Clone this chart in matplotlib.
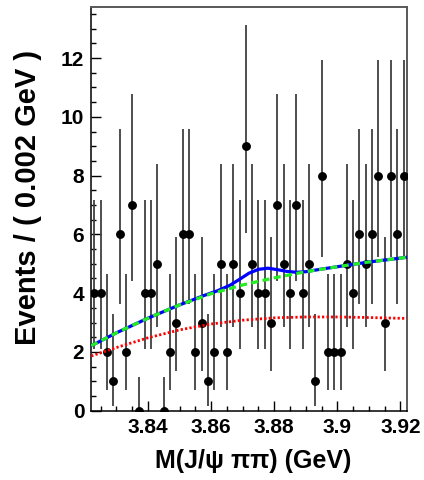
import math

import matplotlib
matplotlib.use("Agg")
import matplotlib.pyplot as plt
from matplotlib.ticker import MultipleLocator, FuncFormatter
import numpy as np

# ── Data ──────────────────────────────────────────────────────────────────────
BIN_WIDTH = 0.002
X_LO, X_HI = 3.822, 3.922

counts = [4, 4, 2, 1, 6, 2, 7, 0, 4, 4,
          5, 0, 2, 3, 6, 6, 2, 3, 1, 2,
          5, 2, 5, 4, 9, 5, 4, 4, 3, 7,
          5, 4, 7, 4, 5, 1, 8, 2, 2, 2,
          5, 4, 6, 5, 6, 8, 3, 8, 6, 8]

# total fit (signal + background)
fit_x = [3.822, 3.830, 3.840, 3.850, 3.858, 3.862, 3.866, 3.869, 3.872, 3.875,
         3.878, 3.881, 3.884, 3.887, 3.890, 3.895, 3.900, 3.910, 3.922]
fit_y = [2.21, 2.65, 3.15, 3.60, 3.93, 4.08, 4.27, 4.47, 4.68, 4.81,
         4.85, 4.80, 4.74, 4.71, 4.73, 4.82, 4.90, 5.06, 5.22]

# background component (green dashed)
bkg_x = [3.822, 3.830, 3.840, 3.850, 3.860, 3.870, 3.880, 3.890, 3.900, 3.910, 3.922]
bkg_y = [2.21, 2.65, 3.15, 3.60, 3.98, 4.28, 4.52, 4.73, 4.90, 5.06, 5.22]

# second component (red dotted)
red_x = [3.822, 3.830, 3.840, 3.850, 3.860, 3.870, 3.880, 3.890, 3.900, 3.910, 3.922]
red_y = [1.86, 2.15, 2.48, 2.75, 2.95, 3.08, 3.16, 3.19, 3.19, 3.17, 3.14]


# ── Poisson (RooFit-style) error bars ─────────────────────────────────────────
def poisson_cdf(n: int, mu: float) -> float:
    return sum(math.exp(-mu) * mu**k / math.factorial(k) for k in range(n + 1))


def solve(f, lo: float, hi: float) -> float:
    # monotone f, root by bisection
    flo = f(lo)
    for _ in range(80):
        mid = 0.5 * (lo + hi)
        if (f(mid) > 0) == (flo > 0):
            lo, flo = mid, f(mid)
        else:
            hi = mid
    return 0.5 * (lo + hi)


def poisson_interval(n: int) -> tuple[float, float]:
    alpha = (1 - 0.6827) / 2
    if n == 0:
        up = solve(lambda m: poisson_cdf(0, m) - 2 * alpha, 0.0, 20.0)
        return 0.0, up
    up = solve(lambda m: poisson_cdf(n, m) - alpha, 0.0, 40.0)
    lo = solve(lambda m: (1 - poisson_cdf(n - 1, m)) - alpha, 0.0, 40.0)
    return lo, up


centers = X_LO + BIN_WIDTH / 2 + BIN_WIDTH * np.arange(len(counts))
intervals = [poisson_interval(n) for n in counts]
err_lo = [n - lo for n, (lo, up) in zip(counts, intervals)]
err_hi = [up - n for n, (lo, up) in zip(counts, intervals)]

# ── Style ─────────────────────────────────────────────────────────────────────
plt.rcParams.update({
    "font.family": ["Liberation Sans", "DejaVu Sans"],
    "font.weight": "bold",
    "font.size": 14,
})

fig = plt.figure(figsize=(4.24, 4.8), dpi=100)
ax = fig.add_axes([0.2151, 0.1444, 0.7443, 0.8417])

ax.errorbar(centers, counts, yerr=[err_lo, err_hi], fmt="none",
            ecolor="0.25", elinewidth=1.3, capsize=0, zorder=2)
ax.plot(centers, counts, "o", color="black", markersize=6.4,
        markeredgewidth=0, zorder=3)

ax.plot(red_x, red_y, color="red", linestyle=(0, (0.8, 0.8)), linewidth=2.0, zorder=4)
ax.plot(fit_x, fit_y, color="blue", linewidth=2.3, zorder=5)
ax.plot(bkg_x, bkg_y, color="#22ee22", linestyle=(0, (2.2, 1.4)), linewidth=2.3, zorder=6)

ax.set_xlim(X_LO, X_HI)
ax.set_ylim(0, 13.75)

ax.xaxis.set_major_locator(MultipleLocator(0.02))
ax.xaxis.set_minor_locator(MultipleLocator(0.005))
ax.yaxis.set_major_locator(MultipleLocator(2))
ax.yaxis.set_minor_locator(MultipleLocator(0.5))
ax.xaxis.set_major_formatter(FuncFormatter(lambda v, p: f"{v:g}"))

ax.tick_params(which="both", direction="in", top=False, right=False, width=1.0)
ax.tick_params(which="major", length=7, pad=5, labelsize=15)
ax.tick_params(which="minor", length=3.5)

for side in ("left", "bottom"):
    ax.spines[side].set_linewidth(1.1)
for side in ("top", "right"):
    ax.spines[side].set_linewidth(1.4)
    ax.spines[side].set_color("0.35")

ax.set_xlabel("M(J/ψ ππ) (GeV)", fontsize=18, fontweight="bold")
ax.set_ylabel("Events / ( 0.002 GeV )", fontsize=21, fontweight="bold")
ax.xaxis.set_label_coords(0.513, -0.095)
ax.yaxis.set_label_coords(-0.155, 0.529)

fig.savefig("out.png", dpi=100)
